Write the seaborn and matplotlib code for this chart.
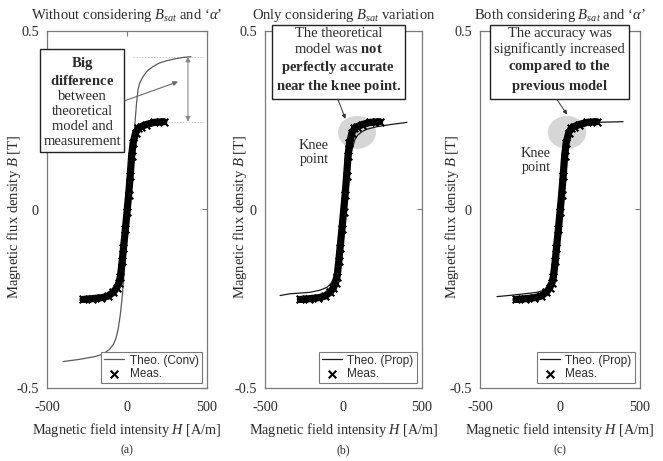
import matplotlib
matplotlib.use("Agg")
import matplotlib.pyplot as plt
import seaborn as sns
import pandas as pd
from matplotlib.patches import Ellipse

# ---------------- data ----------------
meas_H = [-275, -220, -160, -120, -86, -65, -50, -41, -30, -22, -10, 0, 10, 20, 29, 38,
          54, 70, 86, 120, 169, 230]
meas_B = [-0.252, -0.250, -0.247, -0.243, -0.232, -0.220, -0.205, -0.188, -0.145, -0.108,
          -0.055, -0.008, 0.040, 0.095, 0.150, 0.185, 0.215, 0.227, 0.232, 0.238, 0.244, 0.246]

theo_conv_H = [-400, -300, -200, -150, -110, -85, -70, -55, -42, -31, -20, -10, 0, 10, 20,
               30, 37, 50, 60, 69, 80, 100, 130, 162, 200, 250, 300, 350, 400]
theo_conv_B = [-0.426, -0.420, -0.412, -0.405, -0.392, -0.378, -0.362, -0.335, -0.295, -0.250,
               -0.190, -0.125, -0.060, 0.010, 0.075, 0.140, 0.177, 0.244, 0.300, 0.336, 0.355,
               0.372, 0.390, 0.400, 0.410, 0.417, 0.422, 0.426, 0.428]

theo_prop_b_H = [-404, -340, -213, -150, -105, -80, -67, -54, -41, -30, -20, -10, 0, 10, 20,
                 30, 41, 54, 73, 90, 117, 150, 213, 300, 404]
theo_prop_b_B = [-0.241, -0.236, -0.232, -0.226, -0.218, -0.207, -0.196, -0.175, -0.150, -0.112,
                 -0.072, -0.035, 0.000, 0.035, 0.072, 0.108, 0.140, 0.168, 0.196, 0.208, 0.218,
                 0.225, 0.232, 0.238, 0.244]

theo_prop_c_H = [-394, -300, -200, -144, -100, -75, -58, -45, -35, -22, -10, 0, 10, 20, 29,
                 38, 50, 65, 85, 120, 170, 231, 300, 394]
theo_prop_c_B = [-0.244, -0.240, -0.235, -0.232, -0.226, -0.218, -0.205, -0.185, -0.160, -0.112,
                 -0.058, -0.010, 0.038, 0.093, 0.145, 0.182, 0.208, 0.222, 0.230, 0.236, 0.240,
                 0.244, 0.245, 0.246]

x_ticks = [-500, 0, 500]
x_tick_labels = ["-500", "0", "500"]
y_ticks = [-0.5, 0, 0.5]
y_tick_labels = ["-0.5", "0", "0.5"]

titles = [r"Without considering $B_{sat}$ and ‘$\alpha$’",
          r"Only considering $B_{sat}$ variation",
          r"Both considering $B_{sat}$ and ‘$\alpha$’"]
theo_labels = ["Theo. (Conv)", "Theo. (Prop)", "Theo. (Prop)"]
panel_labels = ["(a)", "(b)", "(c)"]
xlabel = r"Magnetic field intensity $H$ [A/m]"
ylabel = r"Magnetic flux density $B$ [T]"

# ---------------- style ----------------
sns.set_style("white")
plt.rcParams["font.family"] = ["Liberation Serif", "DejaVu Serif"]
plt.rcParams["mathtext.fontset"] = "custom"
plt.rcParams["mathtext.rm"] = "Liberation Serif"
plt.rcParams["mathtext.it"] = "Liberation Serif:italic"
plt.rcParams["mathtext.bf"] = "Liberation Serif:bold"

TXT = "#2a2a2a"
SPINE = "#7a7a7a"

fig = plt.figure(figsize=(6.63, 4.61), dpi=100)
W, H = 663, 461
rects_px = [(47, 207), (265, 422), (480, 640)]
top_px, bot_px = 31, 388
ylabel_x = [-0.148, -0.105, -0.12]

meas_df = pd.DataFrame({"H": meas_H, "B": meas_B})
theo_dfs = [pd.DataFrame({"H": theo_conv_H, "B": theo_conv_B}),
            pd.DataFrame({"H": theo_prop_b_H, "B": theo_prop_b_B}),
            pd.DataFrame({"H": theo_prop_c_H, "B": theo_prop_c_B})]
theo_colors = ["#5a5a5a", "#1a1a1a", "#1a1a1a"]

axes = []
for i, (l, r) in enumerate(rects_px):
    ax = fig.add_axes([l / W, (H - bot_px) / H, (r - l) / W, (bot_px - top_px) / H])
    axes.append(ax)
    sns.lineplot(data=theo_dfs[i], x="H", y="B", sort=False, estimator=None, ax=ax,
                 color=theo_colors[i], lw=0.9, label=theo_labels[i], zorder=2)
    sns.lineplot(data=meas_df, x="H", y="B", sort=False, estimator=None, ax=ax,
                 color="black", lw=5.2, legend=False, zorder=3)
    sns.scatterplot(data=meas_df, x="H", y="B", ax=ax, marker="x", s=30, color="black",
                    linewidth=1.5, label="Meas.", zorder=4)

    ax.set_xlim(-500, 500)
    ax.set_ylim(-0.5, 0.5)
    ax.set_xticks(x_ticks)
    ax.set_xticklabels(x_tick_labels)
    ax.set_yticks(y_ticks)
    ax.set_yticklabels(y_tick_labels)
    ax.tick_params(direction="in", top=True, right=True, length=3.5, width=0.8,
                   color=SPINE, labelsize=10.3, labelcolor=TXT)
    ax.tick_params(axis="x", pad=9)
    ax.tick_params(axis="y", pad=6)
    for s in ax.spines.values():
        s.set_color(SPINE)
        s.set_linewidth(0.9)

    ax.set_title(titles[i], fontsize=10.5, color=TXT, pad=9)
    ax.set_xlabel(xlabel, fontsize=10.3, color=TXT)
    ax.xaxis.set_label_coords(0.5, -0.092)
    ax.set_ylabel(ylabel, fontsize=10.5, color=TXT)
    ax.yaxis.set_label_coords(ylabel_x[i], 0.48)
    ax.text(0.5, -0.174, panel_labels[i], transform=ax.transAxes, ha="center",
            va="center", fontsize=8.5, color=TXT)

    leg = ax.legend(loc="lower right", prop={"family": "Liberation Sans", "size": 8.5},
                    frameon=True, fancybox=False, edgecolor=SPINE, framealpha=1,
                    borderaxespad=0.45, handlelength=1.7, handletextpad=0.5,
                    borderpad=0.25, labelspacing=0.1)
    leg.get_frame().set_linewidth(0.8)
    for t in leg.get_texts():
        t.set_color(TXT)

box_kw = dict(boxstyle="square,pad=0.25", fc="white", ec="#222222", lw=1.0)

# ---- panel (a) annotations ----
ax = axes[0]
b_hi = max(theo_conv_B)
b_lo = max(meas_B)
ax.hlines([b_hi], 40, 480, colors="#c8c8c8", linestyles=(0, (1.5, 1.5)), lw=0.7, zorder=1)
ax.hlines([b_lo], 235, 480, colors="#c8c8c8", linestyles=(0, (1.5, 1.5)), lw=0.7, zorder=1)
ax.annotate("", xy=(381, b_lo), xytext=(381, b_hi),
            arrowprops=dict(arrowstyle="<|-|>", color="#8a8a8a", lw=0.8,
                            mutation_scale=7, shrinkA=0, shrinkB=0))
ax.text(-281, 0.303,
        "$\\mathbf{Big}$\n$\\mathbf{difference}$\nbetween\ntheoretical\nmodel and\nmeasurement",
        ha="center", va="center", multialignment="center", fontsize=10.5, color=TXT,
        linespacing=1.2, bbox=box_kw, clip_on=False, zorder=6)
ax.annotate("", xy=(319, 0.358), xytext=(-12, 0.305),
            arrowprops=dict(arrowstyle="-|>", color="#6a6a6a", lw=0.8,
                            mutation_scale=7, shrinkA=0, shrinkB=0), zorder=6)

# ---- panel (b) annotations ----
ax = axes[1]
ax.add_patch(Ellipse((86, 0.216), 242, 0.092, fc="#d6d6d6", ec="none", zorder=1))
ax.text(-188, 0.16, "Knee\npoint", ha="center", va="center", fontsize=10.3,
        color=TXT, linespacing=1.15)
ax.text(-32, 0.416,
        "The theoretical\nmodel was $\\mathbf{not}$\n$\\mathbf{perfectly\\ accurate}$\n"
        "$\\mathbf{near\\ the\\ knee\\ point.}$",
        ha="center", va="center", multialignment="center", fontsize=10.5, color=TXT,
        linespacing=1.2, bbox=box_kw, clip_on=False, zorder=6)
ax.annotate("", xy=(12, 0.254), xytext=(-35, 0.308),
            arrowprops=dict(arrowstyle="-|>", color="#333333", lw=0.7,
                            mutation_scale=6, shrinkA=0, shrinkB=0), zorder=6)

# ---- panel (c) annotations ----
ax = axes[2]
ax.add_patch(Ellipse((44, 0.216), 240, 0.092, fc="#d6d6d6", ec="none", zorder=1))
ax.text(-150, 0.137, "Knee\npoint", ha="center", va="center", fontsize=10.3,
        color=TXT, linespacing=1.15)
ax.text(-3, 0.416,
        "The accuracy was\nsignificantly increased\n$\\mathbf{compared\\ to\\ the}$\n"
        "$\\mathbf{previous\\ model}$",
        ha="center", va="center", multialignment="center", fontsize=10.5, color=TXT,
        linespacing=1.2, bbox=box_kw, clip_on=False, zorder=6)
ax.annotate("", xy=(44, 0.266), xytext=(-19, 0.308),
            arrowprops=dict(arrowstyle="-|>", color="#333333", lw=0.7,
                            mutation_scale=6, shrinkA=0, shrinkB=0), zorder=6)

fig.savefig("out.png", dpi=100)
